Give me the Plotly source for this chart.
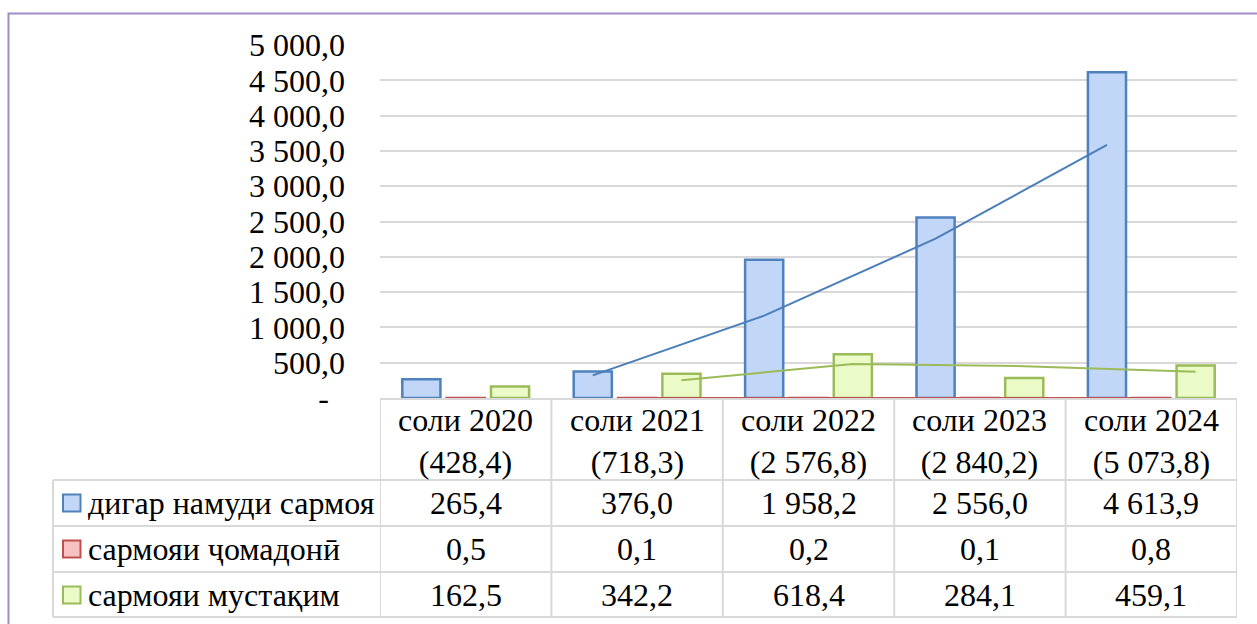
import plotly.graph_objects as go

# ---------------- data ----------------
years = ["2020", "2021", "2022", "2023", "2024"]
cat_prefix = "соли"
series_names = ["дигар намуди сармоя", "сармояи ҷомадонӣ", "сармояи мустақим"]
other_inv = [265.4, 376.0, 1958.2, 2556.0, 4613.9]
portfolio_inv = [0.5, 0.1, 0.2, 0.1, 0.8]
direct_inv = [162.5, 342.2, 618.4, 284.1, 459.1]
y_ticks = [0, 500, 1000, 1500, 2000, 2500, 3000, 3500, 4000, 4500, 5000]

series_values = [other_inv, portfolio_inv, direct_inv]
line_colors = ["#4f81bd", "#c0504d", "#9bbb59"]
fill_colors = ["#c2d6f8", "#f7c3c2", "#eafbc7"]
trend_colors = ["#4a7ebb", "#c0504d", "#9bbb59"]


def fmt(v):
    s = f"{v:,.1f}"
    return s.replace(",", " ").replace(".", ",")


totals = [sum(s[i] for s in series_values) for i in range(len(years))]

FONT = "Times New Roman"
FS = 32
W, H = 1257, 624
L, R, T, B = 380, 1237, 45, 398

bargap = 0.224
bargroupgap = 0.14
slot = (1 - bargap) / 3


def px(x):
    return (x - L) / (R - L)


def py(y):
    return (B - y) / (B - T)


xs = list(range(len(years)))
tfont = dict(family=FONT, size=FS, color="black")

fig = go.Figure()
for k, (name, vals) in enumerate(zip(series_names, series_values)):
    fig.add_trace(go.Bar(
        x=xs, y=vals, name=name,
        marker=dict(color=fill_colors[k], line=dict(color=line_colors[k], width=2.5)),
    ))

# 2-period moving average trendlines, placed at each series' bar centres
for k, vals in enumerate(series_values):
    off = (k - 1) * slot
    tx = [i + off for i in xs[1:]]
    ty = [(vals[i - 1] + vals[i]) / 2 for i in xs[1:]]
    fig.add_trace(go.Scatter(x=tx, y=ty, mode="lines",
                             line=dict(color=trend_colors[k], width=2),
                             cliponaxis=False, hoverinfo="skip"))

shapes = []
annotations = []
grid = "#d9d9d9"

# outer frame
shapes.append(dict(type="rect", xref="paper", yref="paper",
                   x0=px(8.5), x1=px(1262), y0=py(13.5), y1=py(640),
                   line=dict(color="#9f8cc6", width=2), layer="below"))

# table horizontal lines
shapes.append(dict(type="line", xref="paper", yref="paper",
                   x0=px(380), x1=px(1237), y0=py(399), y1=py(399),
                   line=dict(color=grid, width=2), layer="below"))
for yy in [480, 526, 572, 617]:
    shapes.append(dict(type="line", xref="paper", yref="paper",
                       x0=px(53), x1=px(1237), y0=py(yy), y1=py(yy),
                       line=dict(color=grid, width=2)))
# table vertical lines
for k in range(len(years) + 1):
    shapes.append(dict(type="line", xref="x", yref="paper",
                       x0=-0.5 + k, x1=-0.5 + k, y0=py(399), y1=py(617),
                       line=dict(color=grid, width=2)))
shapes.append(dict(type="line", xref="paper", yref="paper",
                   x0=px(53), x1=px(53), y0=py(480), y1=py(617),
                   line=dict(color=grid, width=2)))

# header labels
for i, yr in enumerate(years):
    annotations.append(dict(x=i, y=py(441), xref="x", yref="paper",
                            text=f"{cat_prefix} {yr}<br>({fmt(totals[i])})",
                            showarrow=False, xanchor="center", yanchor="middle",
                            font=tfont))

row_centers = [503, 549, 595]
for r, (name, vals) in enumerate(zip(series_names, series_values)):
    yc = row_centers[r]
    shapes.append(dict(type="rect", xref="paper", yref="paper",
                       x0=px(63), x1=px(80.5), y0=py(yc - 8.5), y1=py(yc + 8.5),
                       fillcolor=fill_colors[r], line=dict(color=line_colors[r], width=2)))
    annotations.append(dict(x=px(86), y=py(yc), xref="paper", yref="paper",
                            text=name, showarrow=False, xanchor="left", yanchor="middle",
                            font=tfont))
    for i, v in enumerate(vals):
        annotations.append(dict(x=i, y=py(yc), xref="x", yref="paper",
                                text=fmt(v), showarrow=False,
                                xanchor="center", yanchor="middle", font=tfont))

fig.update_layout(
    width=W, height=H,
    margin=dict(l=L, r=W - R, t=T, b=H - B),
    paper_bgcolor="white", plot_bgcolor="white",
    barmode="group", bargap=bargap, bargroupgap=bargroupgap,
    showlegend=False,
    font=tfont,
    shapes=shapes, annotations=annotations,
    xaxis=dict(range=[-0.5, len(years) - 0.5], showticklabels=False,
               showgrid=False, zeroline=False, showline=False, ticks=""),
    yaxis=dict(range=[0, 5000], tickvals=y_ticks,
               ticktext=["-\u00a0\u00a0" if v == 0 else fmt(v) for v in y_ticks],
               showgrid=True, gridcolor=grid, gridwidth=2,
               zeroline=False, showline=False, ticks="",
               ticklabelstandoff=34, tickfont=tfont),
)

fig.write_html("out.html", config={"displayModeBar": False},
               post_script="document.body.style.margin='0';document.body.style.overflow='hidden';")
